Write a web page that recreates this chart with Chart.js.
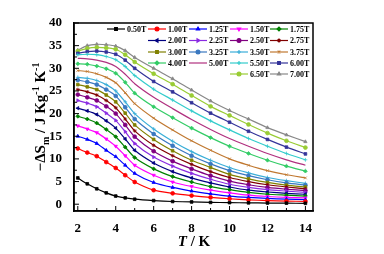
<!DOCTYPE html>
<html>
<head>
<meta charset="utf-8">
<script src="https://cdn.jsdelivr.net/npm/chart.js@4.4.1/dist/chart.umd.min.js"></script>
<style>
    html, body { margin: 0; padding: 0; background: #ffffff; }
</style>
</head>
<body>
<canvas id="mceChart" width="384" height="254"></canvas>
<script>
// temperatures (K)
const temps = [2, 2.5, 3, 3.5, 4, 4.5, 5, 6, 7, 8, 9, 10, 11, 12, 13, 14];
const fieldLabels = ["0.50T", "1.00T", "1.25T", "1.50T", "1.75T", "2.00T", "2.25T", "2.50T", "2.75T",
    "3.00T", "3.25T", "3.50T", "3.75T", "4.00T", "5.00T", "5.50T", "6.00T", "6.50T", "7.00T"];

// -dSm values, one array per field
const s050 = [5.8, 4.5, 3.4, 2.5, 1.8, 1.4, 1.1, 0.8, 0.6, 0.5, 0.4, 0.35, 0.3, 0.26, 0.23, 0.2];
const s100 = [12.3, 11.4, 10.6, 9.3, 8.0, 6.4, 4.9, 3.1, 2.4, 1.9, 1.5, 1.2, 0.95, 0.8, 0.7, 0.6];
const s125 = [15.0, 14.3, 13.4, 11.9, 10.5, 8.6, 6.8, 4.8, 3.7, 2.9, 2.3, 1.8, 1.5, 1.3, 1.1, 1.0];
const s150 = [17.3, 16.6, 15.8, 14.4, 12.8, 10.7, 8.6, 6.4, 4.9, 3.9, 3.1, 2.5, 2.0, 1.7, 1.5, 1.4];
const s175 = [19.4, 18.8, 17.9, 16.5, 14.9, 12.6, 10.3, 7.8, 6.1, 4.9, 3.9, 3.2, 2.6, 2.2, 2.0, 1.8];
const s200 = [21.2, 20.6, 19.8, 18.4, 16.8, 14.4, 11.9, 9.1, 7.2, 5.8, 4.7, 3.8, 3.1, 2.7, 2.4, 2.2];
const s225 = [22.9, 22.3, 21.5, 20.1, 18.5, 16.0, 13.4, 10.4, 8.4, 6.8, 5.5, 4.4, 3.7, 3.2, 2.9, 2.6];
const s250 = [24.2, 23.6, 22.9, 21.6, 20.0, 17.5, 14.9, 11.7, 9.5, 7.8, 6.3, 5.1, 4.3, 3.7, 3.3, 3.0];
const s275 = [25.3, 24.8, 24.1, 22.9, 21.3, 18.8, 16.2, 13.0, 10.7, 8.8, 7.2, 5.9, 5.0, 4.3, 3.8, 3.4];
const s300 = [26.4, 25.9, 25.3, 24.1, 22.6, 20.1, 17.5, 14.3, 11.8, 9.7, 8.1, 6.6, 5.6, 4.8, 4.2, 3.8];
const s325 = [27.4, 27.0, 26.4, 25.3, 23.9, 21.4, 18.8, 15.5, 12.9, 10.7, 8.9, 7.4, 6.3, 5.4, 4.7, 4.2];
const s350 = [28.0, 27.8, 27.3, 26.4, 25.0, 22.6, 20.0, 16.6, 13.9, 11.6, 9.7, 8.1, 6.9, 5.9, 5.2, 4.6];
const s375 = [29.5, 29.3, 28.8, 28.0, 26.8, 24.6, 22.2, 19.0, 16.4, 14.0, 11.9, 10.0, 8.6, 7.4, 6.5, 5.8];
const s400 = [31.0, 30.9, 30.5, 29.9, 28.9, 26.9, 24.5, 21.5, 19.1, 16.8, 14.7, 12.8, 11.2, 9.7, 8.4, 7.3];
const s500 = [32.2, 32.1, 31.8, 31.3, 30.4, 28.7, 26.6, 23.6, 21.1, 18.7, 16.5, 14.5, 12.8, 11.2, 9.8, 8.6];
const s550 = [33.0, 33.1, 33.0, 32.6, 31.9, 30.4, 28.4, 25.4, 23.0, 20.6, 18.4, 16.4, 14.5, 12.8, 11.2, 9.8];
const s600 = [33.3, 33.7, 33.8, 33.6, 33.1, 31.8, 30.0, 27.1, 24.8, 22.4, 20.1, 18.1, 16.1, 14.3, 12.6, 11.1];
const s650 = [33.8, 34.4, 34.6, 34.5, 34.2, 33.0, 31.4, 28.8, 26.5, 24.0, 21.6, 19.6, 17.6, 15.7, 14.0, 12.5];
const s700 = [34.0, 35.0, 35.3, 35.2, 34.9, 33.9, 32.4, 30.0, 27.7, 25.2, 22.8, 20.7, 18.8, 16.9, 15.3, 13.8];

const xTicks = [2, 4, 6, 8, 10, 12, 14];
const xMinor = [3, 5, 7, 9, 11, 13];
const yTicks = [0, 5, 10, 15, 20, 25, 30, 35, 40];
const yMinor = [2.5, 7.5, 12.5, 17.5, 22.5, 27.5, 32.5, 37.5];

const allSeries = [s050, s100, s125, s150, s175, s200, s225, s250, s275, s300,
    s325, s350, s375, s400, s500, s550, s600, s650, s700];

const colors = ["#000000", "#ff0000", "#0000ff", "#ff00ff", "#008000", "#000080", "#8a2be2", "#800080", "#800000",
    "#808000", "#3a78c0", "#3aaed8", "#c07830", "#33cc66", "#b0307f", "#33cccc", "#333399", "#99cc33", "#888888"];
const markers = ["rect", "circle", "triangle", "triangle", "rectRot", "triangle", "triangle", "circle", "star",
    "rect", "circle", "cross", "crossRot", "rectRot", false, "cross", "rect", "circle", "triangle"];
const rotations = [0, 0, 0, 180, 0, -90, 90, 0, 0, 0, 0, 0, 0, 0, 0, 0, 0, 0, 0];

const serif = "'Liberation Serif', 'Times New Roman', serif";

function buildDatasets() {
    let sets = [];
    for (let i = 0; i < allSeries.length; i++) {
        sets.push({
            label: fieldLabels[i],
            data: temps.map((t, k) => ({x: t, y: allSeries[i][k]})),
            borderColor: colors[i],
            backgroundColor: colors[i],
            borderWidth: 1.2,
            pointStyle: markers[i],
            pointRotation: rotations[i],
            pointRadius: markers[i] ? 1.9 : 0,
            pointBorderWidth: 0.8,
            tension: 0.2,
            fill: false
        });
    }
    return sets;
}

// draw text made of several pieces (sub/superscripts), centred on 0,0
function drawRich(ctx, parts) {
    let total = 0;
    parts.forEach(function (p) {
        ctx.font = p.font;
        total += ctx.measureText(p.text).width;
    });
    let x = -total / 2;
    parts.forEach(function (p) {
        ctx.font = p.font;
        ctx.fillText(p.text, x, p.dy || 0);
        x += ctx.measureText(p.text).width;
    });
}

const decorPlugin = {
    id: "decor",
    afterDraw: function (chart) {
        const ctx = chart.ctx;
        const area = chart.chartArea;
        const xs = chart.scales.x;
        const ys = chart.scales.y;
        ctx.save();
        ctx.strokeStyle = "#000";
        ctx.lineWidth = 1.5;
        ctx.strokeRect(area.left, area.top, area.right - area.left, area.bottom - area.top);

        // inward ticks
        ctx.lineWidth = 1;
        ctx.beginPath();
        xTicks.forEach(function (v) {
            let px = xs.getPixelForValue(v);
            ctx.moveTo(px, area.bottom);
            ctx.lineTo(px, area.bottom - 5);
        });
        xMinor.forEach(function (v) {
            let px = xs.getPixelForValue(v);
            ctx.moveTo(px, area.bottom);
            ctx.lineTo(px, area.bottom - 3);
        });
        yTicks.forEach(function (v) {
            let py = ys.getPixelForValue(v);
            ctx.moveTo(area.left, py);
            ctx.lineTo(area.left + 5, py);
        });
        yMinor.forEach(function (v) {
            let py = ys.getPixelForValue(v);
            ctx.moveTo(area.left, py);
            ctx.lineTo(area.left + 3, py);
        });
        ctx.stroke();

        // legend, right aligned rows like the original
        const colX = [107, 148, 189, 230, 270];
        const rowY = [29, 40.5, 52, 63, 74];
        const slots = [[0, 0], [0, 1], [0, 2], [0, 3], [0, 4],
            [1, 1], [1, 2], [1, 3], [1, 4],
            [2, 1], [2, 2], [2, 3], [2, 4],
            [3, 1], [3, 2], [3, 3], [3, 4],
            [4, 3], [4, 4]];
        ctx.textBaseline = "middle";
        ctx.textAlign = "left";
        for (let i = 0; i < fieldLabels.length; i++) {
            let x0 = colX[slots[i][1]];
            let y0 = rowY[slots[i][0]];
            ctx.strokeStyle = colors[i];
            ctx.fillStyle = colors[i];
            ctx.lineWidth = 1.2;
            ctx.beginPath();
            ctx.moveTo(x0, y0);
            ctx.lineTo(x0 + 18, y0);
            ctx.stroke();
            if (markers[i]) {
                Chart.helpers.drawPoint(ctx, {
                    pointStyle: markers[i], rotation: rotations[i], radius: 1.9, borderWidth: 0.8
                }, x0 + 9, y0);
            }
            ctx.fillStyle = "#000";
            ctx.font = "bold 8px " + serif;
            ctx.fillText(fieldLabels[i], x0 + 20, y0 + 0.5);
        }

        // axis titles
        ctx.fillStyle = "#000";
        ctx.textAlign = "left";
        ctx.textBaseline = "alphabetic";
        ctx.save();
        ctx.translate(45, (area.top + area.bottom) / 2);
        ctx.rotate(-Math.PI / 2);
        drawRich(ctx, [
            {text: "\u2212\u0394S", font: "bold 15px " + serif},
            {text: "m", font: "bold 10px " + serif, dy: 4},
            {text: " / J Kg", font: "bold 15px " + serif},
            {text: "-1", font: "bold 10px " + serif, dy: -6},
            {text: " K", font: "bold 15px " + serif},
            {text: "-1", font: "bold 10px " + serif, dy: -6}
        ]);
        ctx.restore();
        ctx.save();
        ctx.translate(194, 246);
        drawRich(ctx, [
            {text: "T", font: "italic bold 15px " + serif},
            {text: " / K", font: "bold 15px " + serif}
        ]);
        ctx.restore();
        ctx.restore();
    }
};

const tickFont = {family: serif, size: 13, weight: "bold"};

let mceChart = new Chart(document.getElementById("mceChart").getContext("2d"), {
    type: "line",
    data: {datasets: buildDatasets()},
    options: {
        responsive: false,
        animation: false,
        devicePixelRatio: 1,
        layout: {padding: {left: 0, right: 71, top: 23, bottom: 0}},
        plugins: {legend: {display: false}, tooltip: {enabled: false}},
        scales: {
            x: {
                type: "linear",
                min: 1.8,
                max: 14.4,
                grid: {display: false},
                border: {display: true, color: "#000", width: 1.5},
                ticks: {font: tickFont, color: "#000", padding: 2, maxRotation: 0},
                afterBuildTicks: function (s) {
                    s.ticks = xTicks.map(v => ({value: v}));
                },
                afterFit: function (s) {
                    s.height = 43;
                }
            },
            y: {
                type: "linear",
                min: -1.5,
                max: 40,
                grid: {display: false},
                border: {display: true, color: "#000", width: 1.5},
                ticks: {font: tickFont, color: "#000", padding: 4},
                afterBuildTicks: function (s) {
                    s.ticks = yTicks.map(v => ({value: v}));
                },
                afterFit: function (s) {
                    s.width = 74;
                }
            }
        }
    },
    plugins: [decorPlugin]
});
</script>
</body>
</html>
